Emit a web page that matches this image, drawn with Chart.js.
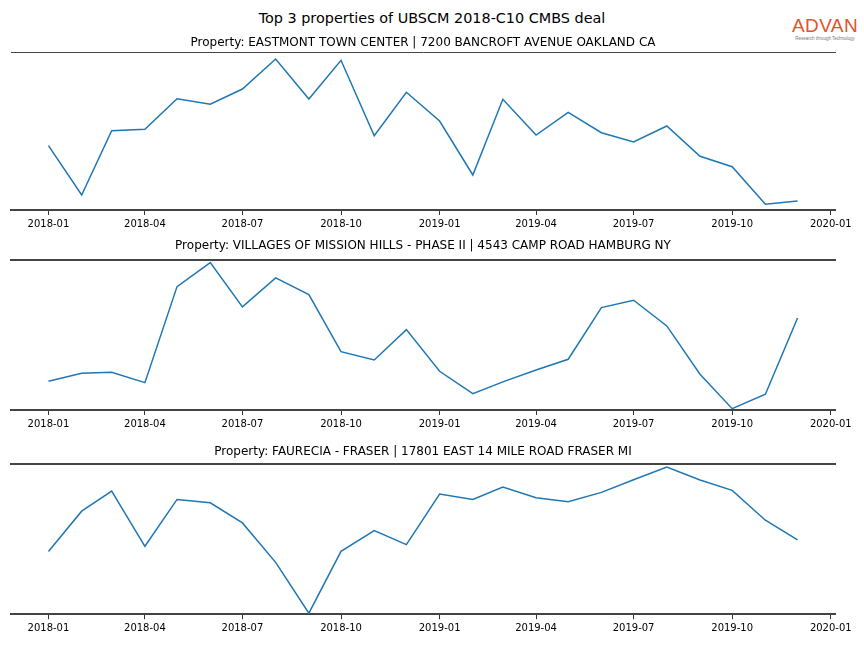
<!DOCTYPE html>
<html>
<head>
<meta charset="utf-8">
<script src="https://cdn.jsdelivr.net/npm/chart.js@4/dist/chart.umd.min.js"></script>
<style>
    body { margin: 0; background: #fff; }
    #page { position: relative; width: 864px; height: 648px; overflow: hidden; font-family: 'DejaVu Sans', sans-serif; }
    .panel { position: absolute; left: 0; width: 864px; }
    #suptitle { position: absolute; left: 0; width: 864px; top: 10px; text-align: center; font-size: 14.4px; color: #000; }
    #logo { position: absolute; left: 789px; top: 16px; width: 72px; text-align: center; }
    #logo .name { font-family: 'Liberation Sans', sans-serif; font-size: 19px; color: #e2532c; letter-spacing: 0.4px; line-height: 20px; }
    #logo .tag { font-family: 'Liberation Sans', sans-serif; font-size: 4.5px; color: #777; line-height: 6px; white-space: nowrap; }
</style>
</head>
<body>
<div id="page">
    <div id="suptitle">Top 3 properties of UBSCM 2018-C10 CMBS deal</div>
    <div id="logo"><div class="name">ADVAN</div><div class="tag">Research through Technology</div></div>
    <div class="panel" style="top:34px;height:199px"><canvas id="chart-1"></canvas></div>
    <div class="panel" style="top:237px;height:196px"><canvas id="chart-2"></canvas></div>
    <div class="panel" style="top:443px;height:195px"><canvas id="chart-3"></canvas></div>
</div>
<script>
// Monthly points, 2018-01 .. 2019-12
const months = ['2018-01', '2018-02', '2018-03', '2018-04', '2018-05', '2018-06',
                '2018-07', '2018-08', '2018-09', '2018-10', '2018-11', '2018-12',
                '2019-01', '2019-02', '2019-03', '2019-04', '2019-05', '2019-06',
                '2019-07', '2019-08', '2019-09', '2019-10', '2019-11', '2019-12'];

const tickLabels = ['2018-01', '2018-04', '2018-07', '2018-10', '2019-01',
                    '2019-04', '2019-07', '2019-10', '2020-01'];

const panelTitles = [
    'Property: EASTMONT TOWN CENTER | 7200 BANCROFT AVENUE OAKLAND CA',
    'Property: VILLAGES OF MISSION HILLS - PHASE II | 4543 CAMP ROAD HAMBURG NY',
    'Property: FAURECIA - FRASER | 17801 EAST 14 MILE ROAD FRASER MI'
];

// values (no y axis shown, so units are arbitrary)
const eastmontValues = [64.3, 15, 79.3, 80.7, 111.3, 105.7, 121, 151, 111, 149.7, 74.3, 117.7,
                        89, 35, 110.7, 75, 97.7, 77.3, 68, 84, 53.7, 43.3, 5.7, 9];
const villagesValues = [28.7, 36.7, 37.7, 27.3, 123.3, 147.3, 103, 132, 115.3, 58.3, 50, 80.3,
                        38.7, 16.3, 28.1, 40, 50.7, 102.3, 109.7, 84, 35.7, 1.3, 15.7, 92];
const faureciaValues = [62.4, 102.7, 122.7, 67.7, 114.4, 111, 91, 51.7, 1, 62.7, 83.4, 69.4,
                        119.7, 114.4, 126.7, 116, 112, 121.4, 134, 146.7, 133.7, 123.4, 93.7, 74];

// visible y range of each panel
const yMax = [157.7, 150, 150];

// day offset from 2018-01-01 for a 'YYYY-MM' string
function dayOf(ym) {
    const parts = ym.split('-');
    return (Date.UTC(+parts[0], +parts[1] - 1, 1) - Date.UTC(2018, 0, 1)) / 86400000;
}

const xDays = months.map(dayOf);
const tickDays = tickLabels.map(dayOf);
const span = xDays[xDays.length - 1] - xDays[0];
const xMin = xDays[0] - span * 0.05;
const xMax = xDays[xDays.length - 1] + span * 0.05;

const FONT = "'DejaVu Sans', sans-serif";

function makePanel(canvasId, values, title, top, topBorder, titleGap, padBottom) {
    const points = xDays.map((d, i) => ({ x: d, y: values[i] }));
    return new Chart(document.getElementById(canvasId), {
        type: 'line',
        data: {
            datasets: [{
                data: points,
                borderColor: '#1f77b4',
                borderWidth: 1.5,
                pointRadius: 0,
                tension: 0,
                fill: false
            }]
        },
        options: {
            responsive: true,
            maintainAspectRatio: false,
            animation: false,
            layout: { padding: { top: 2, bottom: padBottom, left: 11, right: 29 } },
            plugins: {
                legend: { display: false },
                tooltip: { enabled: false },
                title: {
                    display: true,
                    text: title,
                    color: '#000',
                    font: { family: FONT, size: 12, weight: 'normal' },
                    padding: { top: 0, bottom: titleGap }
                }
            },
            scales: {
                x: {
                    type: 'linear',
                    position: 'bottom',
                    min: xMin,
                    max: xMax,
                    afterBuildTicks: axis => {
                        axis.ticks = tickDays.map(v => ({ value: v }));
                    },
                    ticks: {
                        autoSkip: false,
                        maxRotation: 0,
                        padding: 3,
                        color: '#000',
                        font: { family: FONT, size: 10 },
                        callback: (value, index) => tickLabels[index]
                    },
                    grid: {
                        display: true,
                        drawOnChartArea: false,
                        drawTicks: true,
                        tickLength: 5,
                        tickColor: '#333',
                        lineWidth: 1
                    },
                    border: { display: true, color: '#444', width: 2 }
                },
                xTop: {
                    type: 'linear',
                    position: 'top',
                    min: xMin,
                    max: xMax,
                    ticks: { display: false },
                    grid: { display: true, drawOnChartArea: false, drawTicks: false },
                    border: { display: true, color: '#444', width: topBorder }
                },
                y: {
                    display: false,
                    min: 0,
                    max: top
                }
            }
        }
    });
}

makePanel('chart-1', eastmontValues, panelTitles[0], yMax[0], 1, 1.9, 0);
makePanel('chart-2', villagesValues, panelTitles[1], yMax[1], 2, 6.5, 0);
makePanel('chart-3', faureciaValues, panelTitles[2], yMax[2], 2, 4.3, 0.8);
</script>
</body>
</html>
